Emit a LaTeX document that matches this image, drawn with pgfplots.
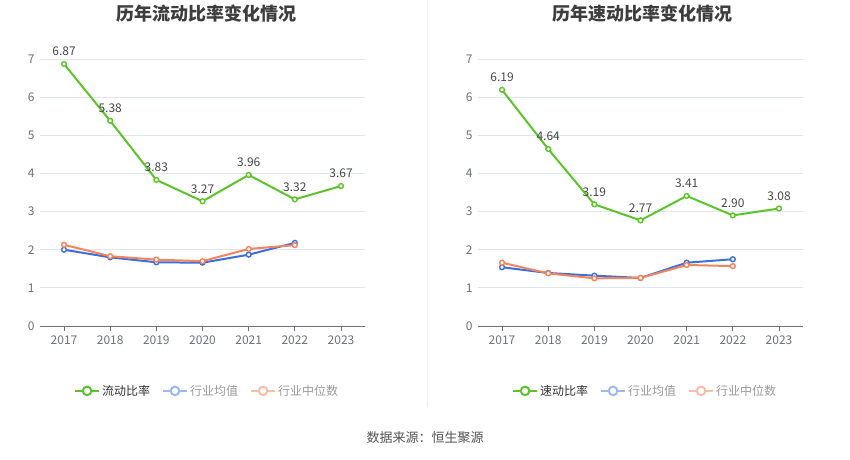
\documentclass[border=0pt]{standalone}
\usepackage{pgfplots}
\pgfplotsset{compat=1.18}
\usepackage{fontspec}
\setmainfont{Noto Sans CJK SC}
\definecolor{cgreen}{HTML}{5BC42A}
\definecolor{cblue}{HTML}{3B6FE0}
\definecolor{corange}{HTML}{F4845B}
\definecolor{lblue}{HTML}{9DB8F2}
\definecolor{lorange}{HTML}{F9BFA8}
\definecolor{axisgray}{HTML}{6E7079}
\definecolor{gridc}{HTML}{E0E6F1}
\definecolor{c333}{HTML}{333333}
\definecolor{c999}{HTML}{999999}
\definecolor{divc}{HTML}{EEEEEE}
\begin{document}
\begin{tikzpicture}
\useasboundingbox (0pt,0pt) rectangle (850pt,459pt);
\pgfplotsset{
  mystyle/.style={
    scale only axis, width=325pt, height=267pt, anchor=south west,
    xmin=-0.52, xmax=6.52, ymin=0, ymax=7,
    xtick={0,...,6}, xticklabels={2017,2018,2019,2020,2021,2022,2023},
    ytick={0,...,7},
    axis x line*=bottom, axis y line*=left,
    y axis line style={draw=none},
    x axis line style={axisgray, line width=0.8pt},
    xtick style={axisgray, line width=0.8pt},
    ytick style={draw=none},
    xtick align=outside, major tick length=5pt,
    ymajorgrids, grid style={gridc, line width=0.8pt},
    tick label style={font=\fontsize{12}{14}\selectfont, text=axisgray},
    /pgf/number format/assume math mode=true,
    yticklabel style={xshift=-2pt},
    xticklabel style={yshift=-1pt},
    clip=false,
    legend columns=3,
    legend style={draw=none, fill=none, font=\fontsize{12}{14}\selectfont,
      at={(0.514,-0.243)}, anchor=center,
      /tikz/every even column/.append style={column sep=10pt}},
    legend cell align=left,
  },
  mainline/.style={cgreen, line width=2pt, mark=*, mark size=2.4pt,
    mark options={fill=white, draw=cgreen, line width=1.4pt},
    nodes near coords, point meta=explicit,
    every node near coord/.append style={font=\fontsize{12}{14}\selectfont, text=c333!90, anchor=south, yshift=4pt,
      /pgf/number format/.cd, fixed, fixed zerofill, precision=2}},
  indline/.style={#1, line width=2pt, mark=*, mark size=2.4pt,
    mark options={fill=white, draw=#1, line width=1.4pt}},
}
% Left chart
\begin{axis}[mystyle, at={(40pt,133pt)}]
\addlegendimage{legend image code/.code={\draw[cgreen,line width=2pt](0pt,0pt)--(24pt,0pt); \draw[cgreen,line width=2pt,fill=white](12pt,0pt) circle(4.3pt);}}
\addlegendentry{\textcolor{c333}{流动比率}}
\addlegendimage{legend image code/.code={\draw[lblue,line width=2pt](0pt,0pt)--(24pt,0pt); \draw[lblue,line width=2pt,fill=white](12pt,0pt) circle(4.3pt);}}
\addlegendentry{\textcolor{c999}{行业均值}}
\addlegendimage{legend image code/.code={\draw[lorange,line width=2pt](0pt,0pt)--(24pt,0pt); \draw[lorange,line width=2pt,fill=white](12pt,0pt) circle(4.3pt);}}
\addlegendentry{\textcolor{c999}{行业中位数}}
\addplot[indline=cblue, forget plot] coordinates {(0,2.00) (1,1.80) (2,1.67) (3,1.66) (4,1.87) (5,2.18)};
\addplot[indline=corange, forget plot] coordinates {(0,2.13) (1,1.83) (2,1.74) (3,1.70) (4,2.02) (5,2.12)};
\addplot[mainline, forget plot] coordinates {(0,6.87)[6.87] (1,5.38)[5.38] (2,3.83)[3.83] (3,3.27)[3.27] (4,3.96)[3.96] (5,3.32)[3.32] (6,3.67)[3.67]};
\end{axis}
% Right chart
\begin{axis}[mystyle, at={(478pt,133pt)}]
\addlegendimage{legend image code/.code={\draw[cgreen,line width=2pt](0pt,0pt)--(24pt,0pt); \draw[cgreen,line width=2pt,fill=white](12pt,0pt) circle(4.3pt);}}
\addlegendentry{\textcolor{c333}{速动比率}}
\addlegendimage{legend image code/.code={\draw[lblue,line width=2pt](0pt,0pt)--(24pt,0pt); \draw[lblue,line width=2pt,fill=white](12pt,0pt) circle(4.3pt);}}
\addlegendentry{\textcolor{c999}{行业均值}}
\addlegendimage{legend image code/.code={\draw[lorange,line width=2pt](0pt,0pt)--(24pt,0pt); \draw[lorange,line width=2pt,fill=white](12pt,0pt) circle(4.3pt);}}
\addlegendentry{\textcolor{c999}{行业中位数}}
\addplot[indline=cblue, forget plot] coordinates {(0,1.54) (1,1.39) (2,1.32) (3,1.26) (4,1.66) (5,1.75)};
\addplot[indline=corange, forget plot] coordinates {(0,1.66) (1,1.38) (2,1.25) (3,1.26) (4,1.60) (5,1.57)};
\addplot[mainline, forget plot] coordinates {(0,6.19)[6.19] (1,4.64)[4.64] (2,3.19)[3.19] (3,2.77)[2.77] (4,3.41)[3.41] (5,2.90)[2.90] (6,3.08)[3.08]};
\end{axis}
\node[font=\fontsize{18}{21}\selectfont\bfseries, text=c333!95] at (206pt,445pt) {历年流动比率变化情况};
\node[font=\fontsize{18}{21}\selectfont\bfseries, text=c333!95] at (642pt,445pt) {历年速动比率变化情况};
\draw[divc, line width=0.8pt] (427pt,52pt) -- (427pt,459pt);
\node[font=\fontsize{13}{15}\selectfont, text=c333!85] at (425pt,21pt) {数据来源：恒生聚源};
\end{tikzpicture}
\end{document}
